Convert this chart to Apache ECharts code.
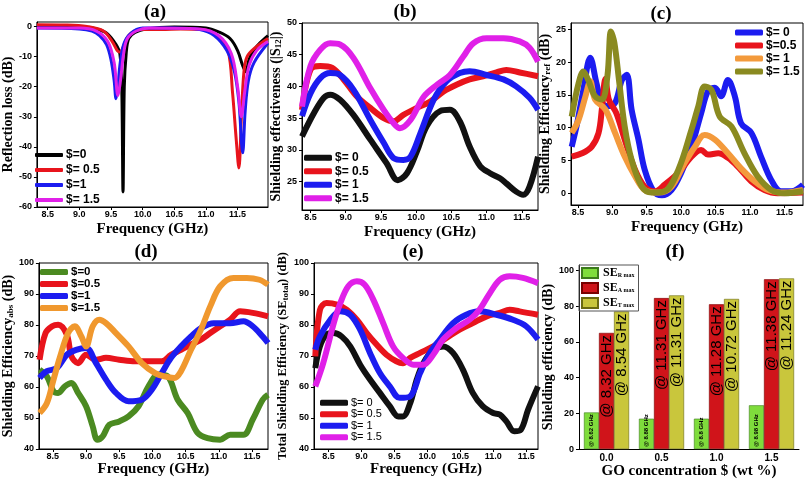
<!DOCTYPE html>
<html><head><meta charset="utf-8">
<script src="https://cdn.jsdelivr.net/npm/echarts@6/dist/echarts.min.js"></script>
<style>html,body{margin:0;padding:0;background:#fff}#c{width:808px;height:480px}</style>
</head><body><div id="c"></div><script>
// ---------- (a) Reflection loss ----------
const aF0 = [8.33,8.8,9.1,9.3,9.45,9.58,9.64,9.67,9.69,9.71,9.74,9.78,9.88,10.05,10.5,11.0,11.2,11.38,11.5,11.58,11.63,11.68,11.75,11.85,11.98];
const aV0 = [0.3,0.2,-0.2,-1,-2.5,-6,-9,-20,-55,-20,-9,-4,-2,-0.8,-0.2,-0.5,-1.8,-4,-8,-13,-15,-11,-8,-5.5,-3];
const aF1 = [8.33,8.8,9.12,9.38,9.52,9.6,9.64,9.69,9.78,9.95,10.3,10.6,10.95,11.2,11.35,11.42,11.48,11.52,11.56,11.6,11.65,11.78,11.98];
const aV1 = [0.6,0.5,0,-1.5,-5,-8,-8.5,-7,-3,-1,-1,-0.8,-1,-3.5,-8,-22,-38,-47,-30,-15,-10,-7,-4];
const aF2 = [8.33,9.0,9.2,9.32,9.43,9.5,9.55,9.58,9.61,9.64,9.7,9.8,10.0,10.5,10.9,11.13,11.33,11.45,11.52,11.58,11.62,11.67,11.76,11.98];
const aV2 = [-0.5,-0.8,-1.5,-3,-6,-11,-18,-24,-20,-13,-6,-2.5,-0.5,-0.5,-1,-3,-8,-15,-25,-42,-28,-18,-12,-5.5];
const aF3 = [8.33,9.0,9.27,9.45,9.55,9.61,9.65,9.7,9.76,9.9,10.1,10.9,11.2,11.4,11.5,11.56,11.61,11.68,11.8,11.98];
const aV3 = [-0.5,-0.5,-1.5,-5,-12,-23,-18,-9,-4,-1.5,-0.5,-0.8,-3,-9,-20,-30,-22,-13,-8,-5];
// ---------- (b) Shielding effectiveness |S12| ----------
const bF0 = [8.38,8.55,8.69,8.78,8.92,9.11,9.35,9.58,9.74,9.87,10.01,10.15,10.34,10.48,10.62,10.76,10.91,11.05,11.19,11.28,11.42,11.52,11.61,11.73];
const bV0 = [32.1,35.8,38.2,38.7,37.9,35.5,31.6,27.9,25.2,26.3,29.7,33.7,36.1,36.3,34.5,30.5,27.4,26.3,25.5,24.7,23.4,22.9,24.2,28.9];
const bF1 = [8.38,8.5,8.64,8.81,8.97,9.16,9.35,9.54,9.68,9.82,10.01,10.2,10.39,10.58,10.76,10.95,11.14,11.28,11.47,11.73];
const bV1 = [36.3,42.6,43.2,42.9,41.1,38.4,36.6,35,34.5,35.5,36.6,37.6,39.2,40.3,41.1,41.6,42.2,42.6,42.2,41.6];
const bF2 = [8.38,8.5,8.64,8.78,8.92,9.11,9.35,9.54,9.68,9.82,9.92,10.06,10.25,10.43,10.62,10.76,11.0,11.24,11.42,11.61,11.73];
const bV2 = [35.3,38.9,41.3,42.1,41.8,39.5,34.7,31.1,28.7,28.4,28.9,32.6,37.9,40.8,42.1,42.4,41.8,41.1,40,38.2,36.3];
const bF3 = [8.38,8.5,8.64,8.78,8.92,9.11,9.35,9.54,9.68,9.77,9.92,10.11,10.3,10.48,10.67,10.81,11.0,11.24,11.47,11.61,11.73];
const bV3 = [36.8,43.2,45.8,46.8,46.6,44.5,39.7,36.3,34.2,33.4,34.7,38.4,40.3,41.8,44.7,46.8,47.6,47.6,47.1,46.1,43.9];
// ---------- (c) SE ref ----------
const cF0 = [8.41,8.49,8.58,8.68,8.77,8.85,8.94,9.04,9.14,9.21,9.28,9.38,9.47,9.6,9.72,9.86,10.0,10.15,10.29,10.39,10.49,10.58,10.68,10.78,10.87,11.02,11.16,11.31,11.45,11.6,11.77];
const cV0 = [7.1,10.7,15.8,20.7,16.8,13.8,13.3,13.8,17.3,18.1,12.8,8.2,3.6,0.3,-0.3,0.5,3.1,7.1,12.2,15.6,16.1,14.8,17.3,14.8,10.7,9.2,5.6,2,0.3,0.3,1.3];
const cF1 = [8.41,8.56,8.7,8.8,8.85,8.9,8.95,9.06,9.18,9.33,9.47,9.62,9.76,9.96,10.15,10.29,10.39,10.54,10.68,10.82,11.02,11.21,11.4,11.77];
const cV1 = [5.6,6.1,7.1,9.2,13,17.5,14.3,12.2,8.2,3.6,1,0.3,1.3,3.1,5.6,6.6,5.9,6.1,5.4,4.1,1.8,0.5,0,0.1];
const cF2 = [8.41,8.51,8.61,8.68,8.75,8.9,9.04,9.18,9.33,9.47,9.67,9.86,10.05,10.2,10.34,10.49,10.68,10.87,11.07,11.26,11.5,11.77];
const cV2 = [9.2,11.2,14.8,17.1,14.3,12.8,9.2,5.6,2.6,0.5,0.1,1,4.6,7.1,8.9,8.2,6.1,3.8,1.8,0.5,0.1,0.5];
const cF3 = [8.41,8.51,8.58,8.65,8.75,8.85,8.93,8.98,9.03,9.1,9.18,9.28,9.43,9.57,9.76,9.96,10.15,10.25,10.34,10.44,10.56,10.73,10.92,11.11,11.31,11.5,11.77];
const cV3 = [11.7,16.8,18.6,17.3,14.8,14.3,18,24.7,23,17,10.2,5.1,1,0.1,0.3,3.6,9.7,13.3,16.3,15.8,11.7,10.2,6.1,2.6,0.5,0,0.3];
// ---------- (d) SE abs ----------
const dF0 = [8.3,8.41,8.51,8.58,8.68,8.78,8.88,9.0,9.1,9.17,9.25,9.35,9.5,9.64,9.79,9.94,10.09,10.23,10.38,10.53,10.68,10.83,11.02,11.17,11.37,11.51,11.66,11.74];
const dV0 = [65.6,63.4,58.6,58.1,60.2,61.3,58.1,53.8,47.3,43,44.1,47.8,48.9,50.5,53.8,60.2,64,63.4,55.9,51.6,45.2,43.5,43,44.6,44.6,49.5,55.9,57.5];
const dF1 = [8.3,8.39,8.49,8.58,8.71,8.78,8.88,9.0,9.15,9.3,9.5,9.74,9.99,10.14,10.28,10.43,10.58,10.73,10.87,11.02,11.17,11.32,11.51,11.74];
const dV1 = [68.8,77.4,79.6,80.1,76.9,69.9,67.7,70.4,68.8,69.4,68.8,68.3,68.3,68.3,70.4,72,73.7,75.3,77.4,79.6,81.7,84.4,83.9,82.8];
const dF2 = [8.3,8.41,8.56,8.71,8.85,9.0,9.15,9.3,9.45,9.64,9.84,9.99,10.14,10.28,10.43,10.58,10.73,10.92,11.17,11.37,11.51,11.66,11.74];
const dV2 = [62.9,65.1,66.1,70.4,72,72.6,67.7,62.4,58.1,55.4,55.9,59.1,64.5,69.4,73.1,76.3,79,80.6,80.6,81.2,79.6,76.3,74.2];
const dF3 = [8.3,8.41,8.51,8.61,8.73,8.83,8.93,9.0,9.1,9.2,9.3,9.45,9.64,9.84,10.04,10.18,10.33,10.43,10.58,10.73,10.87,11.02,11.22,11.42,11.61,11.74];
const dV3 = [51.6,54.8,62.4,69.9,77.4,79.6,76.3,73.1,79.6,81.7,80.6,77.4,73.1,67.7,64.5,63.4,62.9,65.1,72,78.5,86,92.5,95.2,95.2,94.6,93];
// ---------- (e) SE total ----------
const eF0 = [8.3,8.37,8.47,8.58,8.7,8.83,8.98,9.13,9.28,9.43,9.56,9.63,9.74,9.84,9.94,10.09,10.24,10.39,10.54,10.69,10.84,11.0,11.1,11.2,11.32,11.42,11.53,11.68];
const eV0 = [66.1,73.1,76.9,77.4,76.3,73.1,67.2,62.4,58.1,53.8,50.5,50.5,54.8,62.4,67.7,72,73.1,71,65.6,58.1,53.8,51.6,51.1,48.9,45.7,46.2,52.7,60.2];
const eF1 = [8.3,8.37,8.47,8.63,8.78,8.93,9.08,9.23,9.38,9.53,9.63,9.74,9.89,10.09,10.29,10.49,10.69,10.9,11.1,11.25,11.4,11.68];
const eV1 = [69.9,84.9,87.1,86.6,84.9,81.7,77.4,73.7,70.4,68.3,67.7,69.4,71,73.1,75.8,78.5,80.6,82.8,83.9,84.9,84.4,83.3];
const eF2 = [8.3,8.37,8.53,8.68,8.83,8.98,9.13,9.28,9.43,9.58,9.74,9.89,10.04,10.19,10.39,10.59,10.79,11.05,11.3,11.5,11.68];
const eV2 = [72,76.3,81.7,84.4,83.3,78.5,71,64.5,60.2,56.5,57,64.5,71,75.3,80.6,83.3,84.4,83.3,81.7,79.6,75.3];
const eF3 = [8.3,8.42,8.58,8.68,8.8,8.93,9.05,9.18,9.33,9.48,9.63,9.79,9.94,10.09,10.24,10.44,10.64,10.79,10.95,11.1,11.25,11.45,11.68];
const eV3 = [60.2,67.7,80.6,87.1,92.5,94.1,93,88.2,80.6,73.1,69.4,67.2,67.2,70.4,75.3,79,81.7,84.9,90.3,94.6,95.7,95.2,93.5];
// ---------- (f) maxima ----------
const fCats = ['0.0','0.5','1.0','1.5'];
const fSER = [20.5,17,17,24.5];
const fSEA = [65,84.5,81,95];
const fSET = [77,86,84,95.5];
const fSERLab = ['@ 8.62 GHz','@ 8.88 GHz','@ 8.8 GHz','@ 8.98 GHz'];
const fSEALab = ['@ 8.32 GHz','@ 11.31 GHz','@ 11.28 GHz','@ 11.38 GHz'];
const fSETLab = ['@ 8.54 GHz','@ 11.31 GHz','@ 10.72 GHz','@ 11.24 GHz'];
const xTicks = [8.5,9.0,9.5,10.0,10.5,11.0,11.5];

const serif = '"Liberation Serif","Times New Roman",serif';
const sans = '"Liberation Sans",Arial,sans-serif';
const subRich = {s:{fontSize:9,fontWeight:'bold',fontFamily:serif,verticalAlign:'bottom',padding:[5,0,0,0]}};

function pairs(xs, ys){ return xs.map((x,i)=>[x, ys[i]]); }

const panels = [
 {k:'a', box:[32,22,236,185], xr:[8.33,11.98], yr:[-60,1.5], yt:[-60,-50,-40,-30,-20,-10,0],
  yName:'Reflection loss (dB)', yGap:16, yFont:14, xGap:15, lw:3,
  s:[['$=0',aF0,aV0,'#000000'],['$= 0.5',aF1,aV1,'#e8141c'],['$=1',aF2,aV2,'#1c1cf0'],['$= 1.5',aF3,aV3,'#e020e8']],
  lg:{left:35,top:148,gap:1,lh:14,ih:4,size:12,bold:true}},
 {k:'b', box:[302,23,236,187], xr:[8.38,11.73], yr:[20.5,50], yt:[25,30,35,40,45,50],
  yName:'Shielding effectiveness (|S{s|12}|)', yGap:15, yFont:14, xGap:15, lw:6,
  s:[['$= 0',bF0,bV0,'#111111'],['$= 0.5',bF1,bV1,'#e8141c'],['$= 1',bF2,bV2,'#1c1cf0'],['$= 1.5',bF3,bV3,'#e020e8']],
  lg:{left:304,top:151,gap:0,lh:13.5,ih:6,size:12,bold:true}},
 {k:'c', box:[571,23,232,182], xr:[8.40,11.77], yr:[-1.8,26], yt:[0,5,10,15,20,25],
  yName:'Shielding Efficiency{s|ref} (dB)', yGap:17, yFont:14, xGap:15, lw:6,
  s:[['$= 0',cF0,cV0,'#1c1cf0'],['$=0.5',cF1,cV1,'#e8141c'],['$= 1',cF2,cV2,'#f39a3c'],['$= 1.5',cF3,cV3,'#8a8a20']],
  lg:{left:735,top:26,gap:0,lh:13,ih:6,size:12,bold:true}},
 {k:'d', box:[35,263,233,186], xr:[8.29,11.74], yr:[40,100], yt:[40,50,60,70,80,90,100],
  yName:'Shielding Efficiency{s|abs} (dB)', yGap:17, yFont:14, xGap:13, lw:6,
  s:[['$=0',dF0,dV0,'#4b8a21'],['$=0.5',dF1,dV1,'#e8141c'],['$=1',dF2,dV2,'#1c1cf0'],['$=1.5',dF3,dV3,'#f0982e']],
  lg:{left:40,top:266,gap:0,lh:12,ih:6,size:11.5,bold:true}},
 {k:'e', box:[314,263,224,186], xr:[8.28,11.68], yr:[40,100], yt:[40,50,60,70,80,90,100],
  yName:'Total Shielding Efficiency (SE{s|total}) (dB)', yGap:19, yFont:12.5, xGap:13, lw:6,
  s:[['$= 0',eF0,eV0,'#111111'],['$= 0.5',eF1,eV1,'#e8141c'],['$= 1',eF2,eV2,'#1c1cf0'],['$= 1.5',eF3,eV3,'#e020e8']],
  lg:{left:320,top:397,gap:0,lh:11.5,ih:6,size:11,bold:false}}
];

const grid=[], xAxis=[], yAxis=[], series=[], legend=[];
const tickLab = {color:'#000', fontWeight:'bold', fontSize:9, fontFamily:sans};
panels.forEach((p,i)=>{
  grid.push({left:p.box[0], top:p.box[1], width:p.box[2], height:p.box[3], show:true, borderColor:'#000', borderWidth:1, containLabel:false});
  xAxis.push({type:'value', gridIndex:i, min:p.xr[0], max:p.xr[1],
    axisLine:{onZero:false, lineStyle:{color:'#000',width:1}}, splitLine:{show:false},
    axisTick:{customValues:xTicks, length:3, lineStyle:{color:'#000'}},
    axisLabel:Object.assign({customValues:xTicks, margin:3, formatter:v=>v.toFixed(1)}, tickLab),
    name:'Frequency (GHz)', nameLocation:'middle', nameGap:p.xGap,
    nameTextStyle:{color:'#000', fontWeight:'bold', fontSize:15, fontFamily:serif}});
  yAxis.push({type:'value', gridIndex:i, min:p.yr[0], max:p.yr[1],
    axisLine:{onZero:false, lineStyle:{color:'#000',width:1}}, splitLine:{show:false},
    axisTick:{customValues:p.yt, length:3, lineStyle:{color:'#000'}},
    axisLabel:Object.assign({customValues:p.yt, margin:5}, tickLab),
    name:p.yName, nameLocation:'middle', nameGap:p.yGap,
    nameTextStyle:{color:'#000', fontWeight:'bold', fontSize:p.yFont, fontFamily:serif, rich:subRich}});
  const names=[];
  p.s.forEach(s=>{
    const nm = p.k+'|'+s[0];
    names.push(nm);
    series.push({type:'line', name:nm, xAxisIndex:i, yAxisIndex:i, data:pairs(s[1],s[2]),
      showSymbol:false, smooth:0.35, color:s[3], lineStyle:{width:p.lw, color:s[3]}, clip:true});
  });
  legend.push({data:names, orient:'vertical', left:p.lg.left, top:p.lg.top, padding:0,
    itemGap:p.lg.gap, itemWidth:28, itemHeight:p.lg.ih, icon:'roundRect',
    formatter:n=>n.split('|')[1],
    textStyle:{color:'#000', fontSize:p.lg.size, fontWeight:p.lg.bold?'bold':'normal', fontFamily:sans, lineHeight:p.lg.lh, padding:[0,0,0,-2]}});
});

// (f) bar panel
const fi = panels.length;
grid.push({left:579, top:265, width:220, height:188, show:false});
xAxis.push({type:'category', gridIndex:fi, data:fCats,
  axisLine:{lineStyle:{color:'#000'}}, axisTick:{length:3, lineStyle:{color:'#000'}},
  axisLabel:Object.assign({margin:4}, tickLab, {fontSize:10}),
  name:'GO concentration $ (wt %)', nameLocation:'middle', nameGap:11,
  nameTextStyle:{color:'#000', fontWeight:'bold', fontSize:15, fontFamily:serif}});
yAxis.push({type:'value', gridIndex:fi, min:0, max:103,
  axisLine:{show:true, lineStyle:{color:'#000'}}, splitLine:{show:false},
  axisTick:{show:true, customValues:[0,20,40,60,80,100], length:3, lineStyle:{color:'#000'}},
  axisLabel:Object.assign({customValues:[0,20,40,60,80,100], margin:5}, tickLab),
  name:'Shielding efficiency (dB)', nameLocation:'middle', nameGap:13,
  nameTextStyle:{color:'#000', fontWeight:'bold', fontSize:14, fontFamily:serif}});
const barCommon = {type:'bar', xAxisIndex:fi, yAxisIndex:fi, barGap:'0%', barCategoryGap:'18%'};
series.push(Object.assign({}, barCommon, {name:'SER', data:fSER,
  itemStyle:{color:'#7fdc3c', borderColor:'#3c7a1c', borderWidth:0.6},
  label:{show:true, position:'insideBottom', rotate:90, align:'left', verticalAlign:'middle', distance:2,
    formatter:p=>fSERLab[p.dataIndex], fontSize:6, fontWeight:'bold', color:'#000', fontFamily:sans}}));
series.push(Object.assign({}, barCommon, {name:'SEA', data:fSEA,
  itemStyle:{color:'#d0141a', borderColor:'#7a0000', borderWidth:0.6},
  label:{show:true, position:'insideTop', rotate:90, align:'right', verticalAlign:'middle', distance:2,
    formatter:p=>fSEALab[p.dataIndex], fontSize:15, color:'#000', fontFamily:sans}}));
series.push(Object.assign({}, barCommon, {name:'SET', data:fSET,
  itemStyle:{color:'#c9c63c', borderColor:'#6a6a10', borderWidth:0.6},
  label:{show:true, position:'insideTop', rotate:90, align:'right', verticalAlign:'middle', distance:2,
    formatter:p=>fSETLab[p.dataIndex], fontSize:15, color:'#000', fontFamily:sans}}));
const subMap = {SER:'R max', SEA:'A max', SET:'T max'};
legend.push({data:['SER','SEA','SET'], orient:'vertical', left:579, top:265, padding:[2,4,2,2],
  itemGap:3, itemWidth:16, itemHeight:10, icon:'rect', borderColor:'#555', borderWidth:1,
  formatter:n=>'{m|SE}{t|'+subMap[n]+'}',
  textStyle:{color:'#000', lineHeight:11, rich:{m:{fontSize:12, lineHeight:11, fontWeight:'bold', fontFamily:serif},
    t:{fontSize:6, lineHeight:11, fontWeight:'bold', fontFamily:serif, verticalAlign:'bottom', padding:[4,0,0,0]}}}});

const titles = [['(a)',155,12],['(b)',405,12],['(c)',661,14],['(d)',146,252],['(e)',413,252],['(f)',675,252]];
const graphic = titles.map(t=>({type:'text', x:t[1], y:t[2], z:10,
  style:{text:t[0], font:'bold 19px '+serif, fill:'#000', textAlign:'center', textVerticalAlign:'middle'}}));

const chart = echarts.init(document.getElementById('c'), null, {renderer:'canvas'});
chart.setOption({animation:false, backgroundColor:'#fff', grid, xAxis, yAxis, series, legend, graphic});
</script></body></html>
